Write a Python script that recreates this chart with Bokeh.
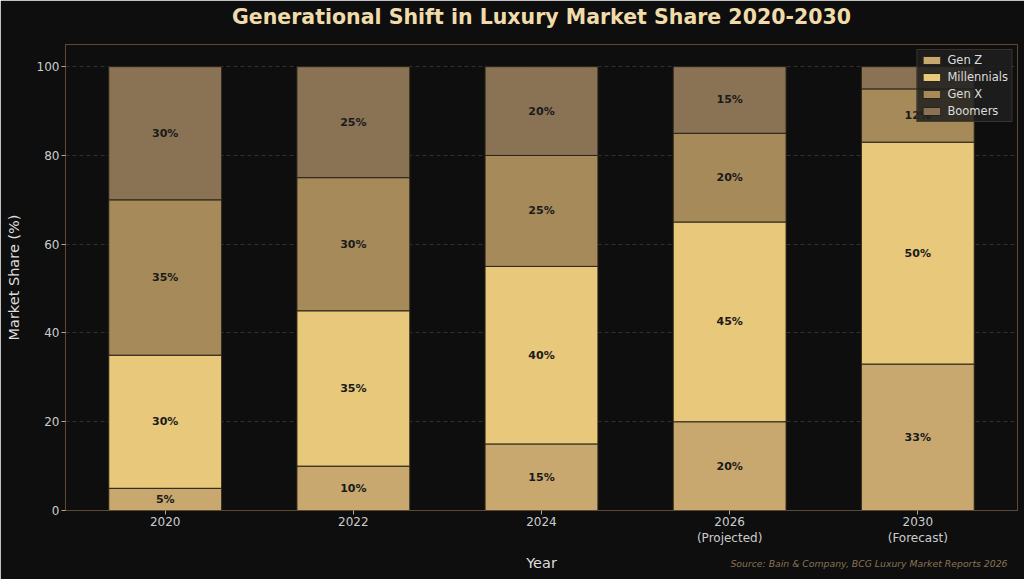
from bokeh.plotting import figure
from bokeh.models import ColumnDataSource, Title, FixedTicker, Legend, LegendItem
from bokeh.embed import file_html
from bokeh.resources import INLINE
from bokeh.core.properties import value

years = ["2020", "2022", "2024", "2026\n(Projected)", "2030\n(Forecast)"]
gen_z = [5, 10, 15, 20, 33]
millennials = [30, 35, 40, 45, 50]
gen_x = [35, 30, 25, 20, 12]
boomers = [30, 25, 20, 15, 5]
series_names = ["Gen Z", "Millennials", "Gen X", "Boomers"]
colors = ["#c8a86e", "#e8c87a", "#a68a5a", "#8a7354"]

BG = "#0e0e0e"
EDGE = "#5a4a35"

xs = list(range(len(years)))
data = {"x": xs, "Gen Z": gen_z, "Millennials": millennials, "Gen X": gen_x, "Boomers": boomers}
src = ColumnDataSource(data)

p = figure(width=1024, height=579, output_backend="svg", toolbar_location=None,
           x_range=(-0.53, 4.53), y_range=(0, 105),
           min_border_left=65, min_border_right=7, min_border_top=44, min_border_bottom=69)
p.background_fill_color = BG
p.border_fill_color = BG
p.outline_line_color = EDGE
p.outline_line_width = 1

# spacer between frame and title, then the title itself (outer)
spacer = Title(text=" ", text_font_size="1px", standoff=9, text_color=BG)
p.add_layout(spacer, "above")
main_title = Title(text="Generational Shift in Luxury Market Share 2020-2030",
                   align="center", vertical_align="top", standoff=4,
                   text_font="DejaVu Sans", text_font_size="20.5px", text_font_style="bold",
                   text_color="#f0dcaa")
p.add_layout(main_title, "above")

renderers = p.vbar_stack(series_names, x="x", width=0.6, source=src, color=colors,
                         line_color="#2a2418", line_width=1)

# segment labels
hidden = {(4, "Boomers")}
lx, ly, lt = [], [], []
for i in xs:
    base = 0
    for name in series_names:
        v = data[name][i]
        if (i, name) not in hidden:
            lx.append(i)
            ly.append(base + v / 2)
            lt.append(f"{v}%")
        base += v
p.text(x=lx, y=ly, text=lt, text_align="center", text_baseline="middle",
       text_font=value("DejaVu Sans"), text_font_size="11px", text_font_style="bold",
       text_color="#1a1a1a")

# axes
for ax in (p.xaxis[0], p.yaxis[0]):
    ax.axis_line_color = EDGE
    ax.major_tick_line_color = "#aaaaaa"
    ax.minor_tick_line_color = None
    ax.major_tick_out = 4
    ax.major_tick_in = 0
    ax.major_label_standoff = 2
    ax.major_label_text_color = "#cccccc"
    ax.major_label_text_font = "DejaVu Sans"
    ax.major_label_text_font_size = "12px"
    ax.axis_label_text_color = "#dddddd"
    ax.axis_label_text_font = "DejaVu Sans"
    ax.axis_label_text_font_size = "14.5px"
    ax.axis_label_text_font_style = "normal"

p.xaxis.ticker = FixedTicker(ticks=xs)
p.xaxis.major_label_overrides = {i: years[i] for i in xs}
p.xaxis.major_label_standoff = 0
p.xaxis.axis_label = "Year"
p.xaxis.axis_label_standoff = 7
p.yaxis.ticker = FixedTicker(ticks=[0, 20, 40, 60, 80, 100])
p.yaxis.axis_label = "Market Share (%)"
p.yaxis.axis_label_standoff = 12

p.xgrid.grid_line_color = None
p.ygrid.grid_line_color = "#3a3a3a"
p.ygrid.grid_line_dash = "4 3"
p.ygrid.grid_line_width = 0.8

legend = Legend(items=[LegendItem(label=n, renderers=[r]) for n, r in zip(series_names, renderers)],
                location="top_right")
legend.background_fill_color = "#1e1e1e"
legend.background_fill_alpha = 0.85
legend.border_line_color = EDGE
legend.label_text_color = "#dddddd"
legend.label_text_font = "DejaVu Sans"
legend.label_text_font_size = "11.5px"
legend.glyph_width = 22
legend.glyph_height = 10
legend.label_height = 10
legend.spacing = 3
legend.padding = 3
legend.margin = 5
p.add_layout(legend, "center")

source_note = Title(text="Source: Bain & Company, BCG Luxury Market Reports 2026",
                    align="right", offset=10, standoff=-34, vertical_align="top",
                    text_color="#8a7354", text_font="DejaVu Sans", text_font_size="9.3px",
                    text_font_style="italic")
p.add_layout(source_note, "below")

open("out.html", "w").write(file_html(p, INLINE))
